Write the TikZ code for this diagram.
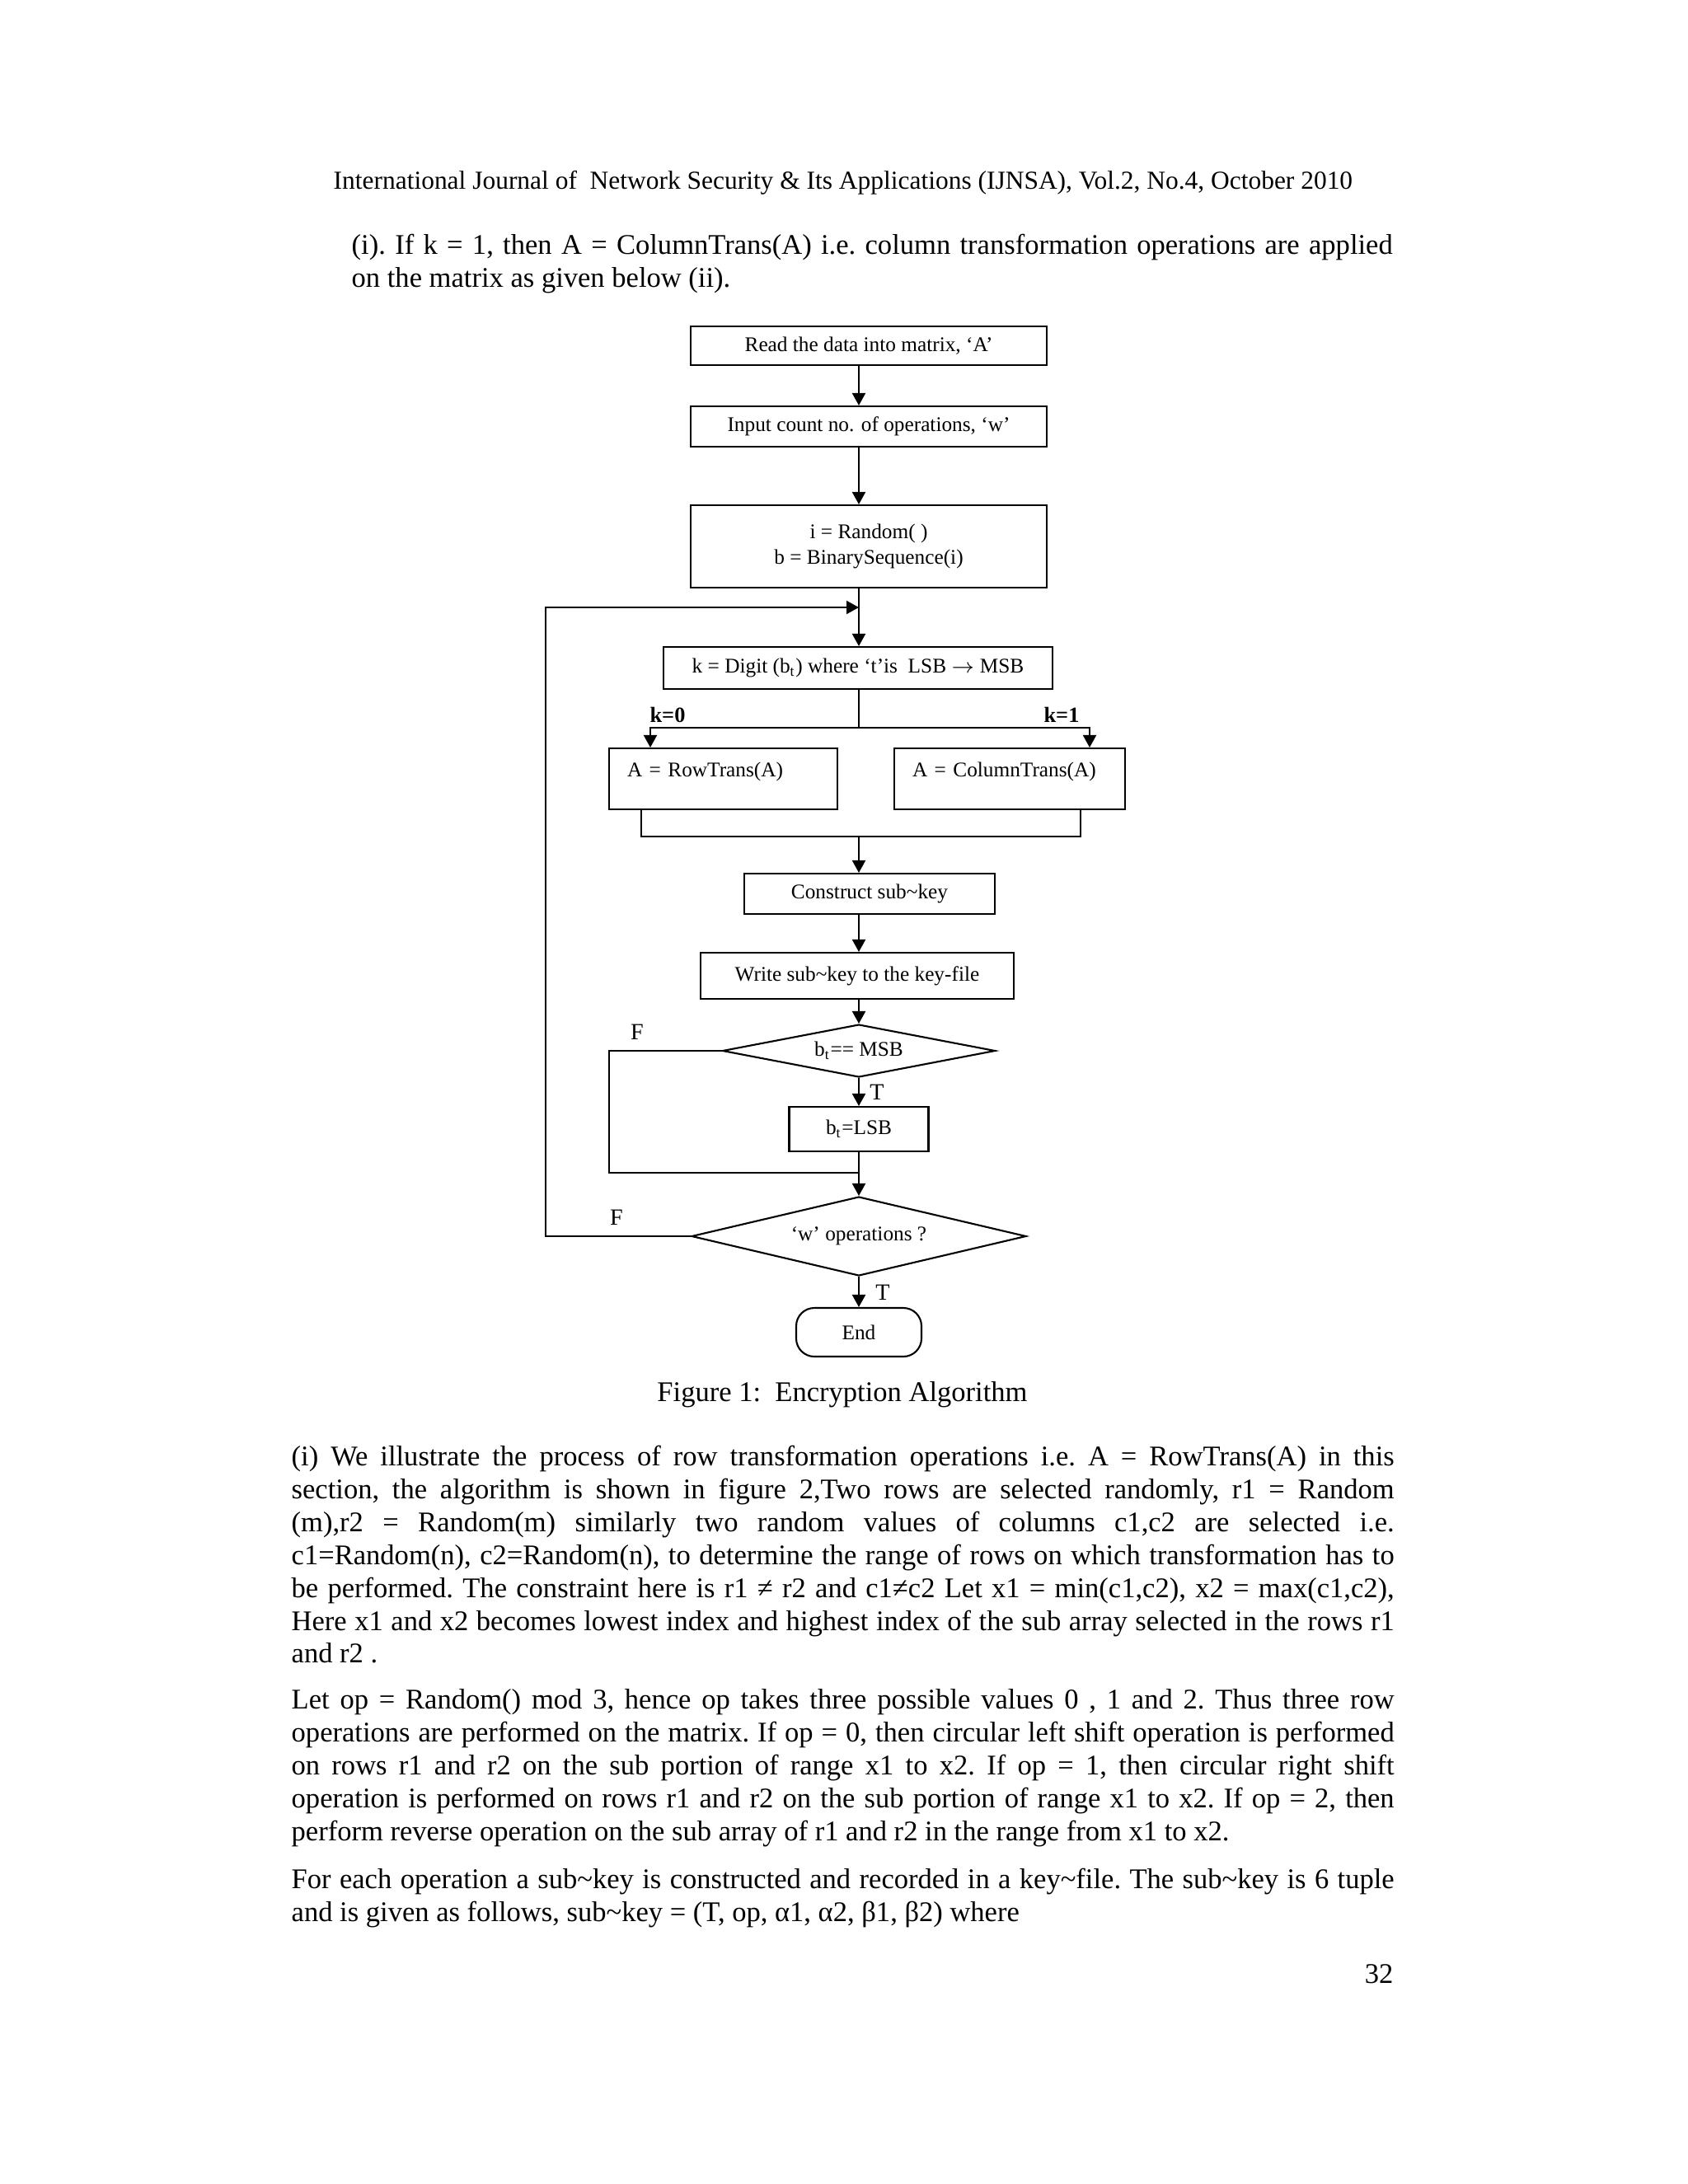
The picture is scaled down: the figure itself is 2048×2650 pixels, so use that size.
\documentclass[tikz,border=0pt]{standalone}
\usepackage{fontspec}
\setmainfont{Liberation Serif}
\usetikzlibrary{arrows.meta,shapes.geometric}
\tikzset{
>={Triangle[length=1.5mm,width=1.6mm]},
  pagetext/.style={inner sep=0pt, font=\fontsize{9.83pt}{11.38pt}\selectfont\frenchspacing},
  parablock/.style={pagetext, anchor=base west, text width=#1, align=justify},
}

\begin{document}
\begin{tikzpicture}[x=0.1mm, y=-0.1mm]
    \tikzset{
        mybox/.style={rectangle, draw=black, line width=0.6pt, inner sep=0pt, font=\fontsize{7.2pt}{8.6pt}\selectfont, align=center},
        transbox/.style={mybox, align=left, text width=#1, inner xsep=2.2mm, minimum height=7.4mm, text depth=2.2mm},
        mydecision/.style={diamond, draw=black, line width=0.6pt, inner sep=0pt, aspect=#1, font=\fontsize{7.2pt}{8.6pt}\selectfont},
        myend/.style={mybox, rounded corners=2.2mm},
        myarrow/.style={draw, line width=0.6pt, ->},
        myline/.style={draw, line width=0.6pt},
        branchlabel/.style={inner sep=0pt, font=\fontsize{7.5pt}{9pt}\selectfont\bfseries},
        tflabel/.style={inner sep=0pt, font=\fontsize{8pt}{9pt}\selectfont},
    }
    \fill[white] (0,0) rectangle (2048,2650);
    \useasboundingbox (0,0) rectangle (2048,2650);

    % page text
    \node[pagetext, font=\fontsize{8.95pt}{10pt}\selectfont, anchor=base west] (header) at (404,229)
        {International Journal of\ \ Network Security \& Its Applications (IJNSA), Vol.2, No.4, October 2010};
    \node[parablock=126.3mm] (intro) at (426,308)
        {(i). If k = 1, then A = ColumnTrans(A) i.e. column transformation operations are applied\linebreak
         on the matrix as given below (ii).};

    % flowchart
    \node[mybox, minimum width=43.2mm, minimum height=4.7mm] (read) at (1054,419.5) {Read the data into matrix, ‘A’};
    \node[mybox, minimum width=43.2mm, minimum height=4.9mm] (input) at (1054,517.5) {Input count no. of operations, ‘w’};
    \node[mybox, minimum width=43.2mm, minimum height=10mm] (rand) at (1054,663) {i = Random( )\\ b = BinarySequence(i)};
    \node[mybox, minimum width=47.2mm, minimum height=5.1mm] (digit) at (1041,810.5)
        {k = Digit (b\textsubscript{t}) where ‘t’is\ \ LSB $\rightarrow$ MSB};
    \node[transbox=23.3mm] (row) at (877.5,945) {A = RowTrans(A)};
    \node[transbox=23.6mm] (col) at (1225,945) {A = ColumnTrans(A)};
    \node[mybox, minimum width=30.4mm, minimum height=4.9mm] (sub) at (1055,1084.5) {Construct sub\textasciitilde key};
    \node[mybox, minimum width=38mm, minimum height=5.6mm] (write) at (1040,1184) {Write sub\textasciitilde key to the key-file};
    \node[mydecision=5.2, minimum width=33.1mm, minimum height=6.4mm] (msb) at (1042,1275) {b\textsubscript{t}== MSB};
    \node[mybox, minimum width=16.9mm, minimum height=5.4mm] (lsb) at (1042,1370) {b\textsubscript{t}=LSB};
    \node[mydecision=4.2, minimum width=40.6mm, minimum height=9.6mm] (wops) at (1042,1500) {‘w’ operations ?};
    \node[myend, minimum width=15.2mm, minimum height=5.9mm] (finish) at (1042,1616.5) {End};

    \coordinate (spine) at (1042,0);
    \coordinate (loopin) at (1042,737);
    \coordinate (loopcorner) at (662,737);
    \coordinate (split) at (1042,883);
    \coordinate (kl) at (789,883);
    \coordinate (kr) at (1322,883);
    \coordinate (ml) at (778,1015);
    \coordinate (mr) at (1311,1015);
    \coordinate (merge) at (1042,1015);
    \coordinate (fcorner) at (739,1423);
    \coordinate (fjoin) at (1042,1423);

    \draw[myarrow] (read.south -| spine) -- (input.north -| spine);
    \draw[myarrow] (input.south -| spine) -- (rand.north -| spine);
    \draw[myarrow] (rand.south -| spine) -- (digit.north -| spine);
    \draw[myarrow] (wops.west) -| (loopcorner) -- (loopin);
    \draw[myline] (digit.south -| spine) -- (split);
    \draw[myarrow] (split) -- (kl) -- (kl |- row.north);
    \draw[myarrow] (split) -- (kr) -- (kr |- col.north);
    \draw[myline] (row.south -| ml) -- (ml) -- (mr) -- (col.south -| mr);
    \draw[myarrow] (merge) -- (sub.north -| merge);
    \draw[myarrow] (sub.south -| spine) -- (write.north -| spine);
    \draw[myarrow] (write.south -| spine) -- (msb.north);
    \draw[myarrow] (msb.south) -- (lsb.north);
    \draw[myline] (msb.west) -| (fcorner) -- (fjoin);
    \draw[myarrow] (lsb.south) -- (wops.north);
    \draw[myarrow] (wops.south) -- (finish.north);

    \node[branchlabel] (kzero) at (810,867) {k=0};
    \node[branchlabel] (kone) at (1288,867) {k=1};
    \node[tflabel] (fmsb) at (773,1252) {F};
    \node[tflabel] (tmsb) at (1064,1325) {T};
    \node[tflabel] (fwops) at (748,1477) {F};
    \node[tflabel] (twops) at (1071,1568) {T};

    % page text below the figure
    \node[pagetext, anchor=base] (caption) at (1022,1700) {Figure 1:\ \ Encryption Algorithm};
    \node[parablock=133.8mm] (parrow) at (353,1778)
        {(i) We illustrate the process of row transformation operations i.e. A = RowTrans(A) in this\linebreak
         section, the algorithm is shown in figure 2,Two rows are selected randomly, r1 = Random\linebreak
         (m),r2 = Random(m) similarly two random values of columns c1,c2 are selected i.e.\linebreak
         c1=Random(n), c2=Random(n), to determine the range of rows on which transformation has to\linebreak
         be performed. The constraint here is r1 ≠ r2 and c1≠c2 Let x1 = min(c1,c2), x2 = max(c1,c2),\linebreak
         Here x1 and x2 becomes lowest index and highest index of the sub array selected in the rows r1\linebreak
         and r2 .};
    \node[parablock=133.8mm] (parop) at (353,2073)
        {Let op = Random() mod 3, hence op takes three possible values 0 , 1 and 2. Thus three row\linebreak
         operations are performed on the matrix. If op = 0, then circular left shift operation is performed\linebreak
         on rows r1 and r2 on the sub portion of range x1 to x2. If op = 1, then circular right shift\linebreak
         operation is performed on rows r1 and r2 on the sub portion of range x1 to x2. If op = 2, then\linebreak
         perform reverse operation on the sub array of r1 and r2 in the range from x1 to x2.};
    \node[parablock=133.8mm] (parkey) at (353,2291)
        {For each operation a sub\textasciitilde key is constructed and recorded in a key\textasciitilde file. The sub\textasciitilde key is 6 tuple\linebreak
         and is given as follows, sub\textasciitilde key = (T, op, α1, α2, β1, β2) where};
    \node[pagetext, anchor=base east] (pagenum) at (1691,2406) {32};
\end{tikzpicture}
\end{document}
